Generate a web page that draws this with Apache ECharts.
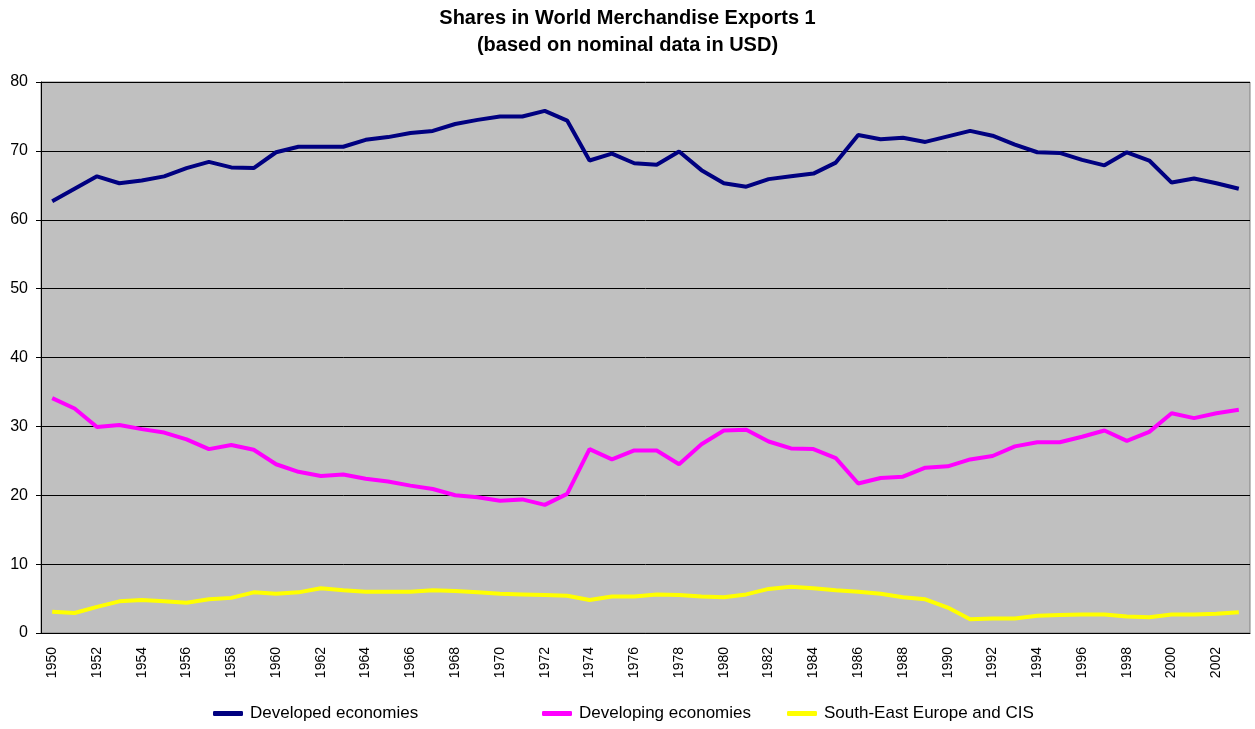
<!DOCTYPE html>
<html>
<head>
<meta charset="utf-8">
<script src="https://cdn.jsdelivr.net/npm/echarts@6/dist/echarts.min.js"></script>
<style>
  html, body { margin: 0; padding: 0; background: #fff; }
  #chart { width: 1255px; height: 729px; }
</style>
</head>
<body>
<div id="chart"></div>
<script>
const years = [];
for (let y = 1950; y <= 2003; y++) years.push(String(y));

const developed = [
  62.7, 64.5, 66.3, 65.3, 65.7, 66.3, 67.5, 68.4, 67.6, 67.5,
  69.8, 70.6, 70.6, 70.6, 71.6, 72.0, 72.6, 72.9, 73.9, 74.5,
  75.0, 75.0, 75.8, 74.4, 68.6, 69.6, 68.2, 68.0, 69.9, 67.2,
  65.3, 64.8, 65.9, 66.3, 66.7, 68.3, 72.3, 71.7, 71.9, 71.3,
  72.1, 72.9, 72.2, 70.9, 69.8, 69.7, 68.7, 67.9, 69.8, 68.6,
  65.4, 66.0, 65.3, 64.5
];
const developing = [
  34.1, 32.6, 29.9, 30.2, 29.6, 29.1, 28.1, 26.7, 27.3, 26.6,
  24.5, 23.4, 22.8, 23.0, 22.4, 22.0, 21.4, 20.9, 20.0, 19.7,
  19.2, 19.4, 18.6, 20.2, 26.7, 25.2, 26.5, 26.5, 24.5, 27.4,
  29.4, 29.5, 27.8, 26.8, 26.7, 25.4, 21.7, 22.5, 22.7, 24.0,
  24.2, 25.2, 25.7, 27.1, 27.7, 27.7, 28.5, 29.4, 27.9, 29.2,
  31.9, 31.2, 31.9, 32.4
];
const seeCis = [
  3.1, 2.9, 3.8, 4.6, 4.8, 4.6, 4.4, 4.9, 5.1, 5.9,
  5.7, 5.9, 6.5, 6.2, 6.0, 6.0, 6.0, 6.2, 6.1, 5.9,
  5.7, 5.6, 5.5, 5.4, 4.8, 5.3, 5.3, 5.6, 5.5, 5.3,
  5.2, 5.6, 6.4, 6.7, 6.5, 6.2, 6.0, 5.7, 5.2, 4.9,
  3.7, 2.0, 2.1, 2.1, 2.5, 2.6, 2.7, 2.7, 2.4, 2.3,
  2.7, 2.7, 2.8, 3.0
];

const seriesNames = ["Developed economies", "Developing economies", "South-East Europe and CIS"];
const seriesColors = ["#000080", "#ff00ff", "#ffff00"];
const seriesData = [developed, developing, seeCis];
const legendLeft = [213, 542, 787];

const font = "'Liberation Sans', Arial, sans-serif";
const chart = echarts.init(document.getElementById("chart"));

chart.setOption({
  animation: false,
  textStyle: { fontFamily: font },
  title: {
    text: "Shares in World Merchandise Exports 1\n(based on nominal data in USD)",
    left: "center",
    top: 5,
    padding: 0,
    textStyle: { fontSize: 20, fontWeight: "bold", color: "#000", lineHeight: 27, fontFamily: font },
  },
  legend: seriesNames.map((name, i) => ({
    data: [name],
    left: legendLeft[i],
    top: 705,
    padding: 0,
    icon: "roundRect",
    itemWidth: 30,
    itemHeight: 5,
    itemGap: 8,
    textStyle: { fontSize: 17, color: "#000", fontFamily: font, padding: [0, 0, 0, 2] },
  })),
  grid: {
    left: 41,
    right: 5,
    top: 82,
    bottom: 96,
    show: true,
    backgroundColor: "#c0c0c0",
    borderColor: "#808080",
    borderWidth: 1,
  },
  xAxis: {
    type: "category",
    data: years,
    boundaryGap: true,
    axisLine: { lineStyle: { color: "#000", width: 1 } },
    axisTick: { interval: 0, length: 5, lineStyle: { color: "#000" } },
    axisLabel: { interval: 1, rotate: 90, fontSize: 14, color: "#000", margin: 14, fontFamily: font },
  },
  yAxis: {
    type: "value",
    min: 0,
    max: 80,
    interval: 10,
    axisLine: { show: true, lineStyle: { color: "#000", width: 1 } },
    axisTick: { show: true, length: 5, lineStyle: { color: "#000" } },
    axisLabel: { fontSize: 16, color: "#000", margin: 13, fontFamily: font },
    splitLine: { lineStyle: { color: "#000", width: 1 } },
  },
  series: seriesNames.map((name, i) => ({
    name: name,
    type: "line",
    data: seriesData[i],
    showSymbol: false,
    symbol: "none",
    color: seriesColors[i],
    lineStyle: { color: seriesColors[i], width: 4 },
  })),
});
</script>
</body>
</html>
